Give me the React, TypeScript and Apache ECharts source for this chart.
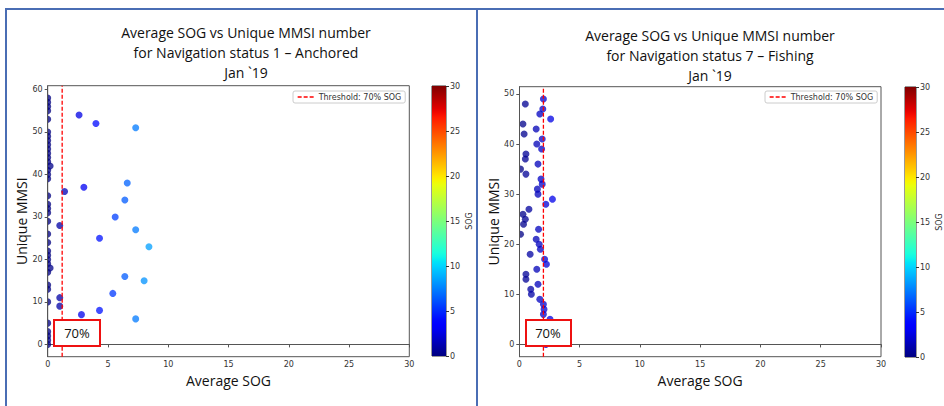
import React, { useEffect, useRef } from "react";
import * as echarts from "echarts";

// ---------- data ----------
const anchoredSog = [
  0, 0, 0, 0, 0, 0, 0, 0, 0, 0, 0, 0, 0, 0, 0, 0, 0, 0, 0, 0, 0, 0, 0, 0, 0, 0, 0, 0, 0, 0, 0, 0, 0, 0, 0, 0,
  0.2, 0.2, 2.6, 4.0, 7.3, 1.4, 3.0, 6.6, 6.4, 5.6, 1.0, 7.3, 4.3, 8.4, 6.4, 8.0, 5.4, 1.0, 1.0, 4.3, 2.8, 7.3,
];
const anchoredMmsi = [
  58, 57, 56, 55, 53, 50, 49, 48, 47, 46, 45, 44, 43, 41, 40, 39, 35, 33, 32, 31, 29, 26, 24, 22, 21, 20, 19, 17, 14, 13, 10, 5, 3, 2, 1, 0,
  42, 18, 54, 52, 51, 36, 37, 38, 34, 30, 28, 27, 25, 23, 16, 15, 12, 11, 9, 8, 7, 6,
];
const fishingSog = [
  0.5, 2.0, 1.95, 1.7, 2.6, 0.3, 1.4, 0.4, 1.9, 1.45, 1.85, 0.55, 0.5, 1.55, 0.1, 0.55, 1.8, 1.9, 1.5, 1.55, 2.75, 2.2, 0.8,
  0.3, 0.5, 0.35, 1.6, 0.1, 1.4, 1.65, 1.75, 0.9, 2.1, 2.25, 1.45, 0.55, 0.55, 1.55, 0.95, 1.0, 1.7, 2.0, 2.05, 2.0, 2.55, 2.2,
];
const fishingMmsi = [
  48, 49, 47, 46, 45, 44, 43, 42, 41, 40, 39, 38, 37, 36, 35, 34, 33, 32, 31, 30, 29, 28, 27,
  26, 25, 24, 23, 22, 21, 20, 19, 18, 17, 16, 15, 14, 13, 12, 11, 10, 9, 8, 7, 6, 5, 0,
];
const anchoredThreshold = 1.2;
const fishingThreshold = 2.0;
const anchoredYRange = [-2.9, 60.9];
const fishingYRange = [-2.45, 51.45];
const anchoredYTicks = [0, 10, 20, 30, 40, 50, 60];
const fishingYTicks = [0, 10, 20, 30, 40, 50];
const sogRange = [0, 30];
const titles = [
  "Average SOG vs Unique MMSI number\nfor Navigation status 1 \u2013 Anchored\nJan `19",
  "Average SOG vs Unique MMSI number\nfor Navigation status 7 \u2013 Fishing\nJan `19",
];
const thresholdName = "Threshold: 70% SOG";
const boxLabel = "70%";

// ---------- jet colormap ----------
function interp(t: number, pts: number[][]) {
  for (let i = 1; i < pts.length; i++) {
    if (t <= pts[i][0]) {
      const [x0, y0] = pts[i - 1];
      const [x1, y1] = pts[i];
      return y0 + ((t - x0) / (x1 - x0)) * (y1 - y0);
    }
  }
  return pts[pts.length - 1][1];
}
function jet(t: number) {
  const r = interp(t, [[0, 0], [0.35, 0], [0.66, 1], [0.89, 1], [1, 0.5]]);
  const g = interp(t, [[0, 0], [0.125, 0], [0.375, 1], [0.64, 1], [0.91, 0], [1, 0]]);
  const b = interp(t, [[0, 0.5], [0.11, 1], [0.34, 1], [0.65, 0], [1, 0]]);
  const h = (v: number) => Math.round(Math.max(0, Math.min(1, v)) * 255).toString(16).padStart(2, "0");
  return "#" + h(r) + h(g) + h(b);
}
const jetColors: string[] = [];
for (let i = 0; i <= 60; i++) jetColors.push(jet(i / 60));

const tickFont = "DejaVu Sans";
const textFont = "Open Sans";
const axisColor = "#555";

function mainXAxis(gridIndex: number) {
  return {
    gridIndex,
    type: "value",
    min: 0,
    max: 30,
    interval: 5,
    name: "Average SOG",
    nameLocation: "middle",
    nameGap: 12,
    nameTextStyle: { fontFamily: textFont, fontSize: 14, color: "#111" },
    axisLine: { show: true, lineStyle: { color: axisColor, width: 1 } },
    axisTick: { show: true, length: 3, lineStyle: { color: axisColor } },
    axisLabel: { fontFamily: tickFont, fontSize: 8, color: "#333", margin: 4 },
    splitLine: { show: false },
  };
}
function mainYAxis(gridIndex: number, range: number[], ticks: number[]) {
  return {
    gridIndex,
    type: "value",
    min: range[0],
    max: range[1],
    z: 10,
    name: "Unique MMSI",
    nameLocation: "middle",
    nameGap: 16,
    nameTextStyle: { fontFamily: textFont, fontSize: 14, color: "#111" },
    axisLine: { show: true, lineStyle: { color: axisColor, width: 1 } },
    axisTick: { show: true, length: 3, customValues: ticks, lineStyle: { color: axisColor } },
    axisLabel: { fontFamily: tickFont, fontSize: 8, color: "#333", margin: 5, customValues: ticks },
    splitLine: { show: false },
  };
}
function barYAxis(gridIndex: number) {
  return {
    gridIndex,
    type: "value",
    position: "right",
    min: sogRange[0],
    max: sogRange[1],
    interval: 5,
    name: "SOG",
    nameLocation: "middle",
    nameGap: 19,
    nameTextStyle: { fontFamily: tickFont, fontSize: 8, color: "#333" },
    axisLine: { show: false },
    axisTick: { show: true, length: 3, lineStyle: { color: "#333" } },
    axisLabel: { fontFamily: tickFont, fontSize: 8, color: "#333", margin: 4 },
    splitLine: { show: false },
  };
}

function legendAt(left: number) {
  return {
    data: [thresholdName],
    left,
    top: 91,
    itemWidth: 16,
    itemHeight: 8,
    padding: [2, 4, 2, 4],
    borderColor: "#ccc",
    borderWidth: 1,
    borderRadius: 2,
    backgroundColor: "#fff",
    selectedMode: false,
    itemStyle: { color: "rgba(0,0,0,0)", borderWidth: 0, opacity: 0 },
    lineStyle: { color: "#ff0000", width: 1.3, type: [4, 2], opacity: 1 },
    textStyle: { fontFamily: tickFont, fontSize: 8, color: "#333", padding: [0, 0, 0, 0] },
  };
}

function zip(a: number[], b: number[]) {
  return a.map((v, i) => [v, b[i]]);
}

export default function App() {
  const ref = useRef<HTMLDivElement>(null);
  useEffect(() => {
    if (!ref.current) return;
    const chart = echarts.init(ref.current, null, { renderer: "svg" });
    const gradStops = jetColors.map((c, i) => ({ offset: i / (jetColors.length - 1), color: c }));
    const barColor = () => new echarts.graphic.LinearGradient(0, 1, 0, 0, gradStops);

    const panelBlue = "#4a6db4";
    const option: any = {
      animation: false,
      backgroundColor: "#fff",
      title: [
        {
          text: titles[0],
          left: 246,
          top: 22,
          padding: 0,
          textAlign: "center",
          textStyle: { fontFamily: textFont, fontSize: 14, fontWeight: "normal", color: "#111", lineHeight: 20 },
        },
        {
          text: titles[1],
          left: 710,
          top: 25,
          padding: 0,
          textAlign: "center",
          textStyle: { fontFamily: textFont, fontSize: 14, fontWeight: "normal", color: "#111", lineHeight: 20 },
        },
      ],
      legend: [legendAt(293), legendAt(765)],
      grid: [
        { left: 47.7, top: 85.7, width: 361.6, height: 271, show: true, borderColor: axisColor, borderWidth: 1 },
        { left: 519.3, top: 86.7, width: 361.7, height: 270, show: true, borderColor: axisColor, borderWidth: 1 },
        { left: 432, top: 86, width: 14, height: 270, show: true, borderColor: "#333", borderWidth: 1 },
        { left: 905, top: 87, width: 16, height: 270, show: true, borderColor: "#333", borderWidth: 1 },
      ],
      xAxis: [
        mainXAxis(0),
        mainXAxis(1),
        { gridIndex: 2, type: "category", data: ["c"], show: false },
        { gridIndex: 3, type: "category", data: ["c"], show: false },
      ],
      yAxis: [
        mainYAxis(0, anchoredYRange, anchoredYTicks),
        mainYAxis(1, fishingYRange, fishingYTicks),
        barYAxis(2),
        barYAxis(3),
      ],
      visualMap: {
        type: "continuous",
        show: false,
        seriesIndex: [0, 2],
        dimension: 0,
        min: sogRange[0],
        max: sogRange[1],
        inRange: { color: jetColors },
      },
      series: [
        {
          type: "scatter",
          xAxisIndex: 0,
          yAxisIndex: 0,
          data: zip(anchoredSog, anchoredMmsi),
          symbolSize: 7,
          itemStyle: { opacity: 0.75 },
          silent: true,
        },
        {
          type: "line",
          name: thresholdName,
          xAxisIndex: 0,
          yAxisIndex: 0,
          data: [[anchoredThreshold, anchoredYRange[0]], [anchoredThreshold, anchoredYRange[1]]],
          symbol: "none",
          lineStyle: { color: "#ff0000", width: 1.3, type: [4, 2] },
          itemStyle: { color: "#ff0000" },
          silent: true,
          z: 3,
        },
        {
          type: "scatter",
          xAxisIndex: 1,
          yAxisIndex: 1,
          data: zip(fishingSog, fishingMmsi),
          symbolSize: 7,
          itemStyle: { opacity: 0.75 },
          silent: true,
        },
        {
          type: "line",
          name: thresholdName,
          xAxisIndex: 1,
          yAxisIndex: 1,
          data: [[fishingThreshold, fishingYRange[0]], [fishingThreshold, fishingYRange[1]]],
          symbol: "none",
          lineStyle: { color: "#ff0000", width: 1.3, type: [4, 2] },
          itemStyle: { color: "#ff0000" },
          silent: true,
          z: 3,
        },
        {
          type: "bar",
          xAxisIndex: 2,
          yAxisIndex: 2,
          data: [sogRange[1]],
          barWidth: "100%",
          itemStyle: { color: barColor() },
          silent: true,
        },
        {
          type: "bar",
          xAxisIndex: 3,
          yAxisIndex: 3,
          data: [sogRange[1]],
          barWidth: "100%",
          itemStyle: { color: barColor() },
          silent: true,
        },
      ],
      graphic: [
        // clip the half of the markers that lie left of the y axis (as matplotlib does)
        { type: "rect", z: 5, silent: true, shape: { x: 39, y: 80, width: 8.4, height: 278 }, style: { fill: "#fff" } },
        { type: "rect", z: 5, silent: true, shape: { x: 510, y: 80, width: 9, height: 278 }, style: { fill: "#fff" } },
        // "70%" annotation boxes
        { type: "rect", z: 20, silent: true, shape: { x: 54, y: 320, width: 46, height: 26 }, style: { fill: "#fff", stroke: "#ee1111", lineWidth: 2 } },
        { type: "text", z: 21, silent: true, x: 77, y: 333, style: { text: boxLabel, fontFamily: textFont, fontSize: 13, fill: "#111", align: "center", verticalAlign: "middle" } },
        { type: "rect", z: 20, silent: true, shape: { x: 526, y: 320, width: 45, height: 26 }, style: { fill: "#fff", stroke: "#ee1111", lineWidth: 2 } },
        { type: "text", z: 21, silent: true, x: 548, y: 333, style: { text: boxLabel, fontFamily: textFont, fontSize: 13, fill: "#111", align: "center", verticalAlign: "middle" } },
        // slide panel borders
        { type: "line", z: 30, silent: true, shape: { x1: 6, y1: 9, x2: 944, y2: 9 }, style: { stroke: panelBlue, lineWidth: 2 } },
        { type: "line", z: 30, silent: true, shape: { x1: 6, y1: 8, x2: 6, y2: 406 }, style: { stroke: panelBlue, lineWidth: 2 } },
        { type: "line", z: 30, silent: true, shape: { x1: 477, y1: 8, x2: 477, y2: 406 }, style: { stroke: panelBlue, lineWidth: 2 } },
      ],
    };
    chart.setOption(option);
    return () => chart.dispose();
  }, []);
  return <div ref={ref} style={{ position: "fixed", left: 0, top: 0, width: 944, height: 406 }} />;
}
